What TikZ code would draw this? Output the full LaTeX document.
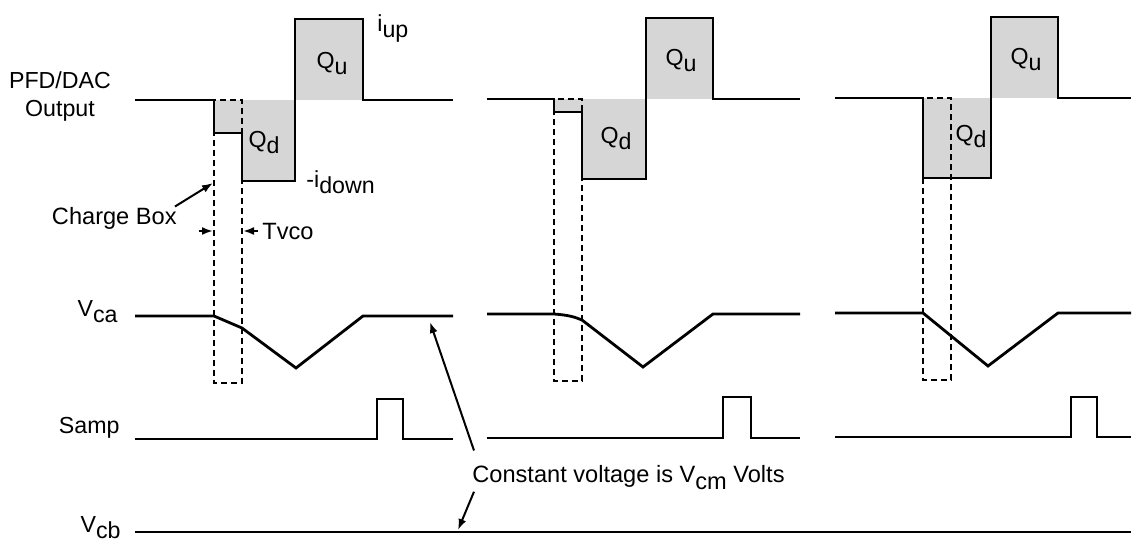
\documentclass[tikz,border=0pt]{standalone}
\usepackage{fontspec}
\setmainfont{Liberation Sans}
\usetikzlibrary{arrows.meta}
\newcommand{\lowsub}[1]{\raisebox{-0.3em}{#1}}
\tikzset{
    wave/.style={line width=1.4pt, line join=miter},
    chargebox/.style={line width=0.9pt, dash pattern=on 3pt off 2pt},
    qarea/.style={fill=black!16},
    sigtext/.style={font=\fontsize{11.6}{14}\selectfont, inner sep=0pt},
    notetext/.style={font=\fontsize{11.8}{14}\selectfont, inner sep=0pt},
    pointer/.style={-{Latex[length=5.5pt,width=4pt]}, line width=1pt}
}
\begin{document}
\begin{tikzpicture}[x=0.5pt, y=-0.5pt]
        \useasboundingbox (0,0) rectangle (1132,541);

        % Charge areas under the PFD/DAC output
        \fill[qarea] (214,100) -- (214,133) -- (242,133) -- (242,181) -- (295,181) -- (295,100) -- cycle;
        \fill[qarea] (295,19) rectangle (363,100);
        \fill[qarea] (554,99) -- (554,112) -- (582,112) -- (582,179) -- (646,179) -- (646,99) -- cycle;
        \fill[qarea] (646,18) rectangle (713,99);
        \fill[qarea] (923,98) rectangle (991,178);
        \fill[qarea] (991,17) rectangle (1058,98);

        % Charge boxes
        \draw[chargebox] (214,100) rectangle (242,383);
        \draw[chargebox] (554,99) rectangle (582,381);
        \draw[chargebox] (923,98) rectangle (951,380);

        % PFD/DAC output
        \draw[wave] (135,100) -- (214,100) -- (214,133) -- (242,133) -- (242,181) -- (295,181)
            -- (295,19) -- (363,19) -- (363,100) -- (453,100);
        \draw[wave] (487,99) -- (554,99) -- (554,112) -- (582,112) -- (582,179) -- (646,179)
            -- (646,18) -- (713,18) -- (713,99) -- (800,99);
        \draw[wave] (835,98) -- (923,98) -- (923,178) -- (991,178)
            -- (991,17) -- (1058,17) -- (1058,98) -- (1131,98);

        % V_ca
        \draw[wave] (135,316) -- (214,316) -- (242,328) -- (296,368) -- (363,316) -- (453,316);
        \draw[wave] (487,314) -- (554,314) .. controls (568,315) and (575,317) .. (582,320)
            -- (643,367) -- (713,314) -- (800,314);
        \draw[wave] (835,313) -- (923,313) -- (988,366) -- (1058,313) -- (1131,313);

        % Samp
        \draw[wave] (135,439) -- (377,439) -- (377,399) -- (403,399) -- (403,439) -- (453,439);
        \draw[wave] (487,438) -- (723,438) -- (723,397) -- (751,397) -- (751,438) -- (800,438);
        \draw[wave] (835,437) -- (1071,437) -- (1071,397) -- (1097,397) -- (1097,437) -- (1131,437);

        % V_cb
        \draw[wave] (135,532) -- (1131,532);

        % Signal names
        \node[sigtext, align=center] (pfd) at (60,96) {PFD/DAC\\Output};
        \node[sigtext, anchor=base east] (vca) at (118,316) {V\lowsub{ca}};
        \node[sigtext, anchor=base east] (samp) at (120,433) {Samp};
        \node[sigtext, anchor=base east] (vcb) at (121,532) {V\lowsub{cb}};

        % Levels and charges
        \node[sigtext, anchor=base west] (iup) at (377,31) {i\lowsub{up}};
        \node[sigtext, anchor=base west] (idown) at (306,187) {-i\lowsub{down}};
        \node[sigtext, anchor=base] (qu1) at (332,68) {Q\lowsub{u}};
        \node[sigtext, anchor=base] (qd1) at (264,147) {Q\lowsub{d}};
        \node[sigtext, anchor=base] (qu2) at (681,65) {Q\lowsub{u}};
        \node[sigtext, anchor=base] (qd2) at (616,143) {Q\lowsub{d}};
        \node[sigtext, anchor=base] (qu3) at (1026,64) {Q\lowsub{u}};
        \node[sigtext, anchor=base] (qd3) at (971,141) {Q\lowsub{d}};

        % Charge box and Tvco notes
        \node[notetext, anchor=base east] (cbox) at (177,224) {Charge Box};
        \coordinate (cbtip) at (213,183);
        \draw[pointer] ([xshift=-1pt]cbox.north east) -- (cbtip);
        \node[notetext, anchor=west] (tvco) at (262,231) {Tvco};
        \coordinate (tvright) at (243,231);
        \coordinate (tvleft) at (213,231);
        \coordinate (tvstart) at (199,231);
        \draw[pointer] ([xshift=-2pt]tvco.west) -- (tvright);
        \draw[pointer] (tvstart) -- (tvleft);

        % Constant voltage note
        \node[notetext, anchor=base west] (cvolt) at (472,482) {Constant voltage is V\lowsub{cm} Volts};
        \coordinate (vcatip) at (430,322);
        \coordinate (vcbtip) at (458,530);
        \draw[pointer] ([shift={(1pt,7pt)}]cvolt.north west) -- (vcatip);
        \draw[pointer] ([shift={(1pt,-1pt)}]cvolt.south west) -- (vcbtip);
\end{tikzpicture}
\end{document}
